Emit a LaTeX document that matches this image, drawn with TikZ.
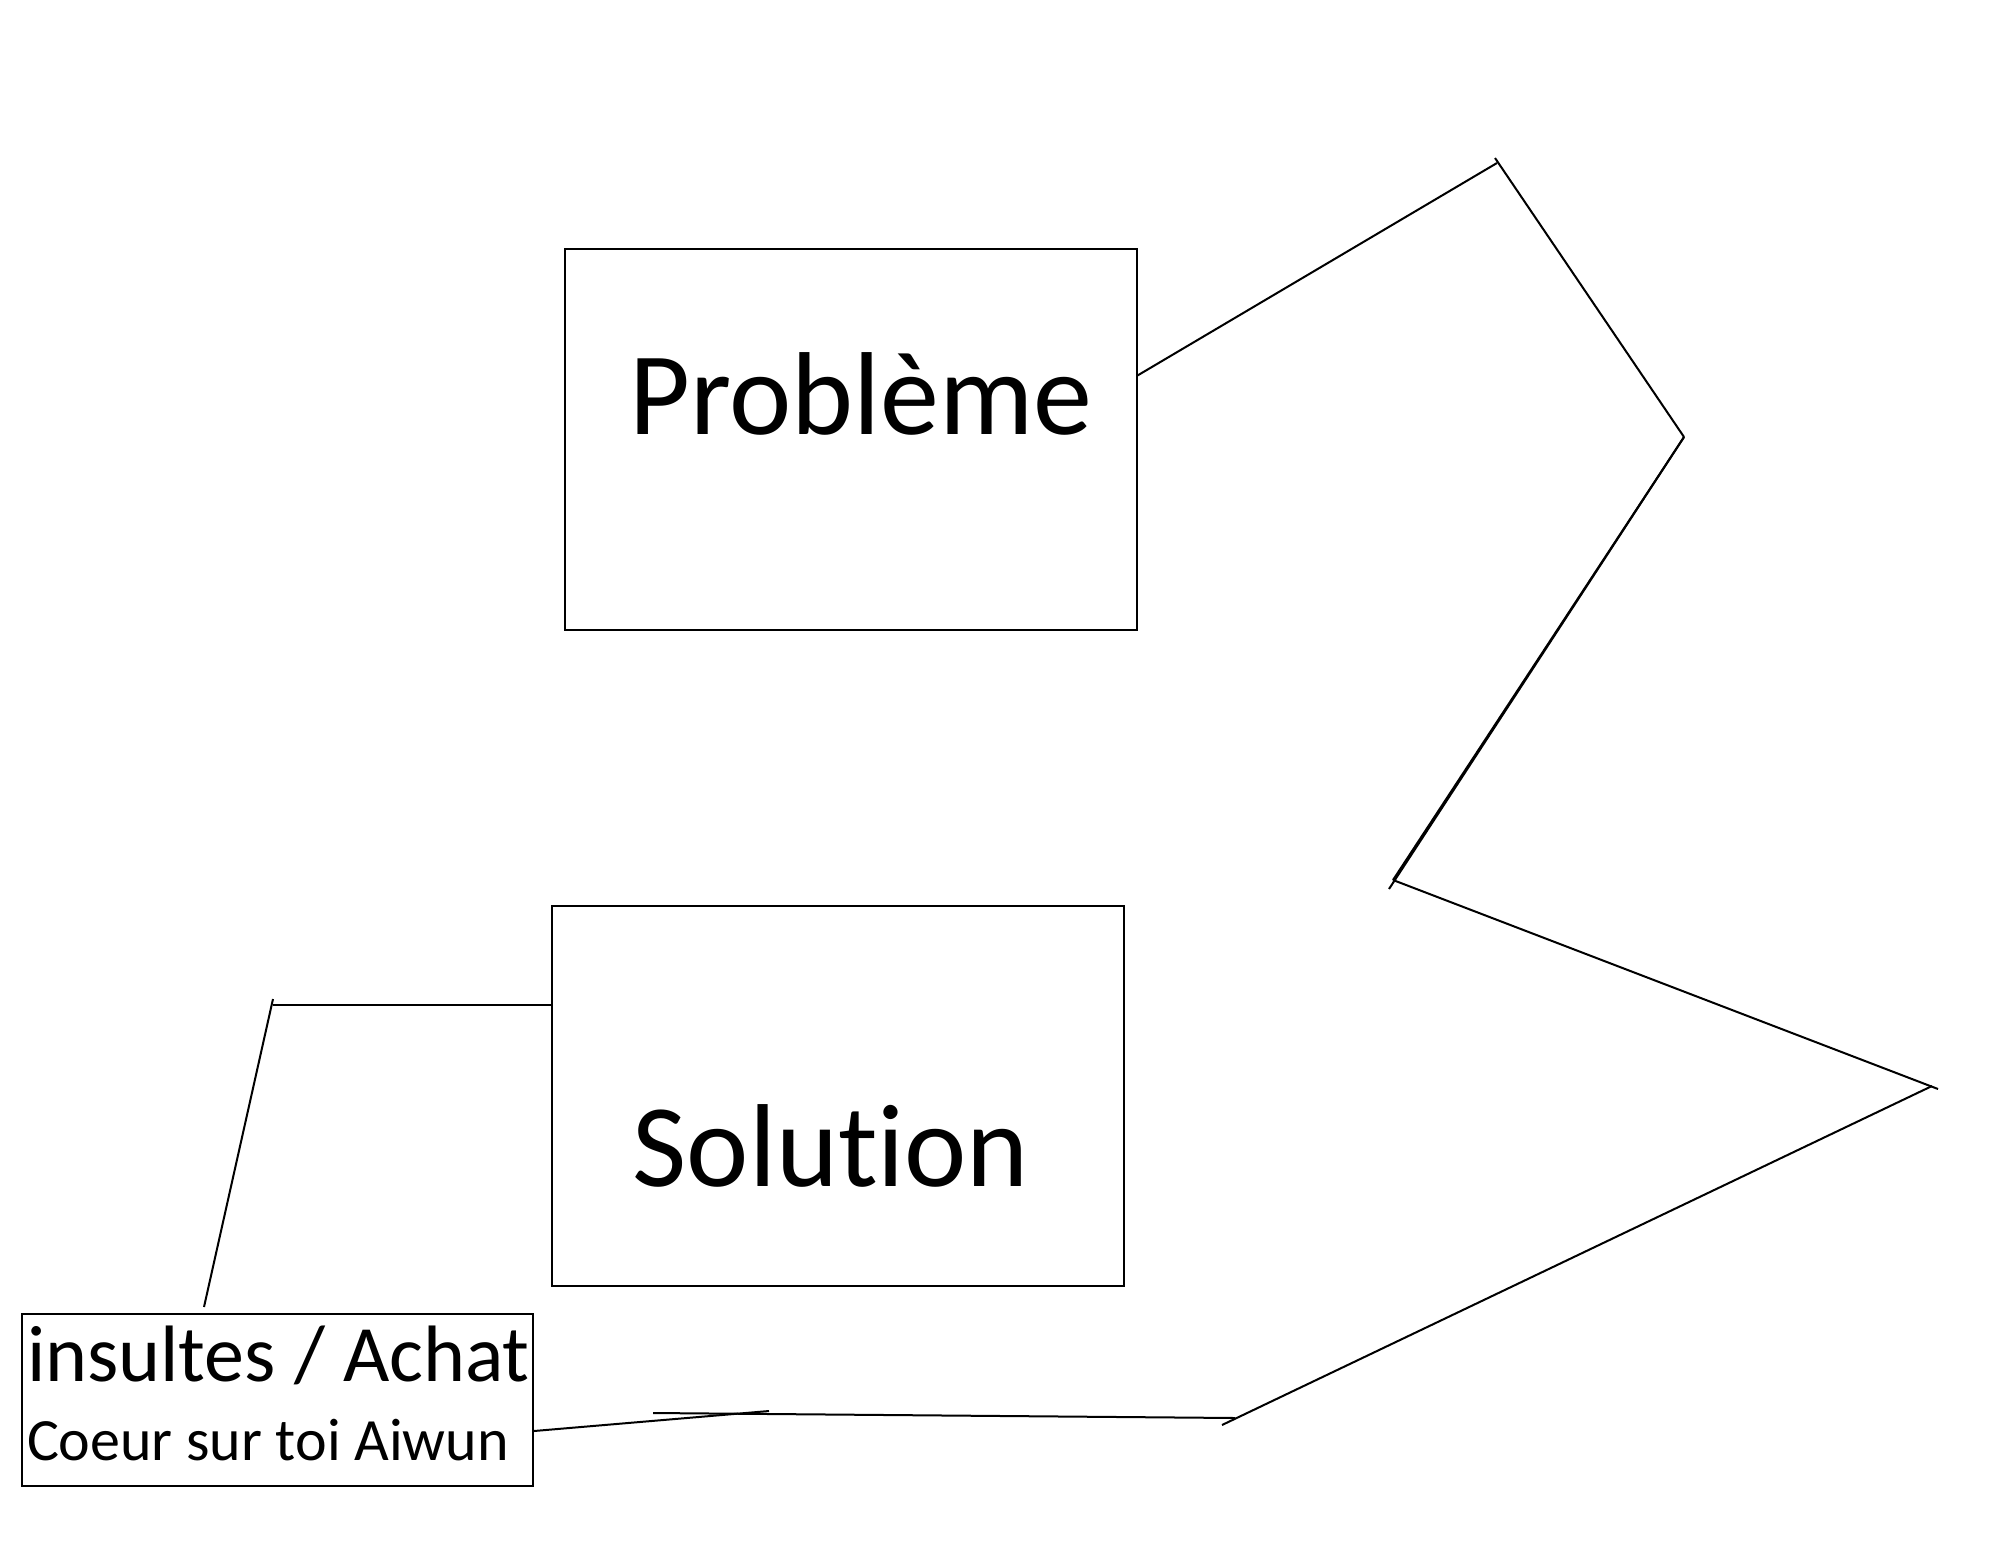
\documentclass[tikz,border=0pt]{standalone}
\usepackage{fontspec}
\setmainfont{Carlito}[Ligatures=NoCommon]

\begin{document}
\begin{tikzpicture}[x=0.5pt, y=-0.5pt, line width=1pt,
    box/.style={draw, rectangle, inner sep=0pt},
    bigtext/.style={anchor=base, inner sep=0pt, font=\fontsize{59}{70}\selectfont},
    notetext/.style={anchor=base west, inner sep=0pt}]

    \useasboundingbox (0,0) rectangle (2000,1557);

    % Nodes
    \node[box, minimum width=286pt, minimum height=190.5pt] (prob) at (850.5,439.5) {};
    \node[bigtext] (probtxt) at (861,434) {Problème};
    \node[box, minimum width=286pt, minimum height=190pt] (sol) at (838,1096) {};
    \node[bigtext] (soltxt) at (831,1186) {Solution};
    \node[box, minimum width=255.5pt, minimum height=86pt] (note) at (277.5,1400) {};
    \node[notetext, font=\fontsize{40}{48}\selectfont] (notea) at (26,1381) {insultes / Achat};
    \node[notetext, font=\fontsize{30}{36}\selectfont] (noteb) at (26,1460) {Coeur sur toi Aiwun};

    % Corners
    \coordinate (c1) at (1497,163);
    \coordinate (c2) at (1684,437);
    \coordinate (c3) at (1393,880);
    \coordinate (c4) at (1932,1086);
    \coordinate (c5) at (1222,1425);
    \coordinate (c6) at (769,1411);
    \coordinate (h1) at (653,1413);
    \coordinate (h2) at (1235,1418);
    \coordinate (l1) at (273,1005);
    \coordinate (l2) at (273,999);
    \coordinate (l3) at (204,1307);

    % Edges
    \draw ([yshift=32pt]prob.east) -- (c1);
    \draw ([shift={(-2,-5)}]c1) -- (c2);
    \draw (c2) -- (c3);
    \draw (c2) -- ([shift={(-4,9)}]c3);
    \draw (c3) -- ([shift={(6,3)}]c4);
    \draw (c4) -- (c5);
    \draw (h1) -- (h2);
    \draw ([yshift=-15.5pt]note.east) -- (c6);
    \draw ([yshift=45.5pt]sol.west) -- (l1);
    \draw (l2) -- (l3);

\end{tikzpicture}
\end{document}
